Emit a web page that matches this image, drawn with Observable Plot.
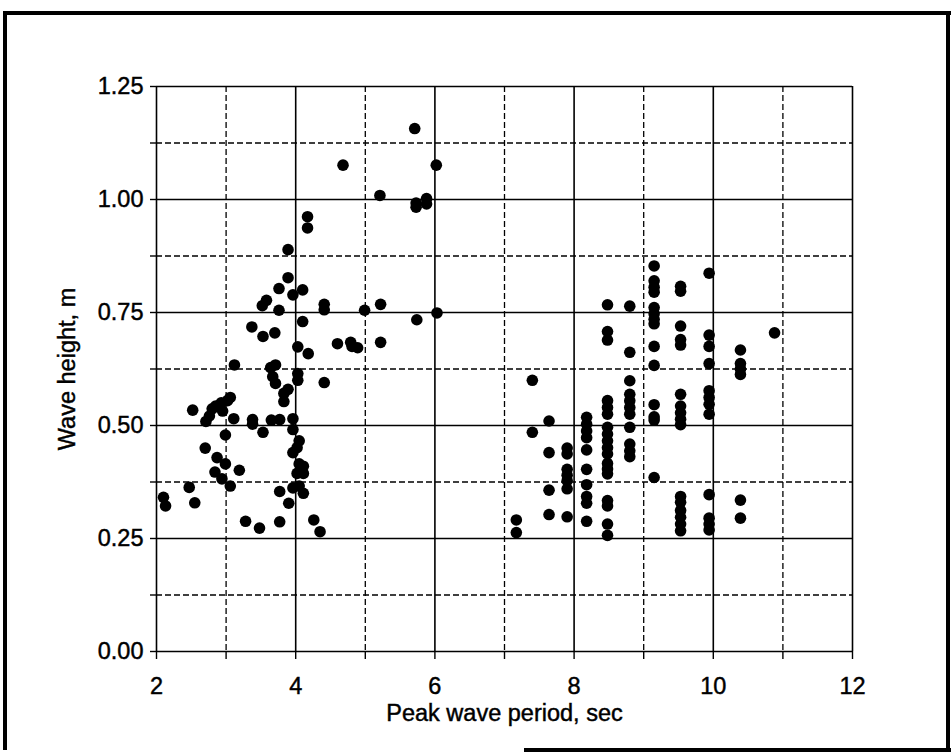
<!DOCTYPE html>
<html><head><meta charset="utf-8">
<script src="https://cdn.jsdelivr.net/npm/d3@7"></script>
<script src="https://cdn.jsdelivr.net/npm/@observablehq/plot@0.6"></script>
<style>
body{margin:0;background:#fff}
#chart{position:relative;width:951px;height:752px}
#chart svg text{stroke:#000;stroke-width:0.45px}
</style>
</head><body><div id="chart"></div>
<script>
// Short-period cluster (individual points)
const periodsA = [4.68,4.17,4.17,3.89,3.89,3.76,4.10,3.96,3.58,3.52,3.76,4.41,4.41,4.10,3.37,3.53,3.70,4.03,4.18,4.60,
  4.79,4.81,4.89,3.12,3.64,3.71,3.67,3.71,4.03,4.03,4.41,3.89,3.83,3.83,3.06,3.02,2.93,2.85,2.80,2.95,
  2.52,2.76,2.71,3.11,3.38,3.38,3.65,3.77,3.96,3.96,3.53,2.99,2.70,4.05,4.02,3.96,2.87,2.99,2.84,2.94,
  3.06,3.19,4.05,4.11,4.11,4.02,3.96,4.05,4.11,2.47,2.10,2.13,2.55,3.77,3.90,3.28,3.48,3.77,4.26,4.35,
  6.02,5.21,5.73,5.73,5.88,5.88,4.99,5.22,6.03,5.74,5.22,5.71];
const heightsA = [1.076,0.962,0.937,0.889,0.827,0.803,0.800,0.789,0.777,0.765,0.755,0.768,0.756,0.730,0.718,0.697,0.705,0.674,0.659,0.681,
  0.684,0.675,0.672,0.634,0.628,0.634,0.608,0.593,0.615,0.600,0.595,0.580,0.571,0.553,0.562,0.555,0.550,0.543,0.537,0.532,
  0.534,0.521,0.509,0.515,0.513,0.503,0.512,0.513,0.515,0.491,0.485,0.479,0.450,0.466,0.451,0.440,0.429,0.415,0.397,0.382,
  0.366,0.401,0.415,0.410,0.394,0.394,0.362,0.366,0.350,0.363,0.341,0.322,0.329,0.354,0.328,0.288,0.273,0.287,0.291,0.265,
  1.076,1.009,0.992,0.983,1.002,0.990,0.755,0.768,0.749,0.734,0.684,1.157];

// Long-period cluster (columns of discrete periods)
const columnPeriods = [7.17,7.40,7.64,7.90,8.18,8.48,8.80,9.15,9.53,9.94,10.39,10.88];
const columnHeights = [
  [0.291,0.263],
  [0.600,0.485],
  [0.510,0.440,0.357,0.303],
  [0.450,0.437,0.403,0.390,0.378,0.360,0.298],
  [0.518,0.503,0.488,0.473,0.446,0.403,0.369,0.343,0.328,0.288],
  [0.767,0.708,0.689,0.555,0.540,0.525,0.496,0.481,0.466,0.451,0.437,0.416,0.404,0.393,0.334,0.322,0.282,0.257],
  [0.764,0.662,0.599,0.569,0.555,0.540,0.525,0.496,0.459,0.444,0.431],
  [0.853,0.820,0.806,0.795,0.761,0.747,0.735,0.725,0.675,0.633,0.546,0.519,0.512,0.385],
  [0.808,0.797,0.720,0.690,0.678,0.569,0.543,0.528,0.514,0.502,0.343,0.330,0.312,0.297,0.282,0.267],
  [0.837,0.700,0.675,0.637,0.577,0.562,0.547,0.525,0.347,0.295,0.282,0.269],
  [0.667,0.637,0.625,0.613,0.335,0.295],
  [0.705]
];

const majorX = [2,4,6,8,10,12];
const minorX = [3,5,7,9,11];
const allX = [2,3,4,5,6,7,8,9,10,11,12];
const majorY = [0,0.25,0.5,0.75,1,1.25];
const minorY = [0.125,0.375,0.625,0.875,1.125];
const allY = [0,0.125,0.25,0.375,0.5,0.625,0.75,0.875,1,1.125,1.25];
const xTickLabels = ["2","4","6","8","10","12"];
const yTickLabels = ["0.00","0.25","0.50","0.75","1.00","1.25"];
const xTitle = "Peak wave period, sec";
const yTitle = "Wave height, m";

const points = periodsA.map((p,i)=>({period:p,height:heightsA[i]}))
  .concat(columnPeriods.flatMap((p,i)=>columnHeights[i].map(h=>({period:p,height:h}))));

const font = "'Liberation Sans', Arial, sans-serif";
const fs = 23.5;

const plot = Plot.plot({
  width:951, height:752,
  marginLeft:156, marginRight:99, marginTop:86, marginBottom:101,
  style:{fontFamily:font, fontSize:fs+"px", color:"#000", background:"#fff"},
  x:{domain:[2,12]},
  y:{domain:[0,1.25]},
  marks:[
    Plot.ruleX(minorX, {stroke:"#000", strokeWidth:1.3, strokeDasharray:"6,3"}),
    Plot.ruleY(minorY, {stroke:"#000", strokeWidth:1.3, strokeDasharray:"6,3"}),
    Plot.ruleX(majorX, {stroke:"#000", strokeWidth:1.6}),
    Plot.ruleY(majorY, {stroke:"#000", strokeWidth:1.6}),
    Plot.axisX(allX, {tickSize:8, strokeWidth:1.4, tickFormat:()=>"", label:null}),
    Plot.axisX(majorX, {tickSize:0, tickPadding:26, fontSize:fs,
      tickFormat:d=>xTickLabels[majorX.indexOf(d)],
      label:xTitle, labelAnchor:"center", labelArrow:"none", labelOffset:69}),
    Plot.axisY(allY, {tickSize:6, strokeWidth:1.4, tickFormat:()=>"", label:null}),
    Plot.axisY(majorY, {tickSize:0, tickPadding:13, fontSize:fs,
      tickFormat:d=>yTickLabels[majorY.indexOf(d)],
      label:yTitle, labelAnchor:"center", labelArrow:"none", labelOffset:98}),
    Plot.dot(points, {x:"period", y:"height", r:5.8, fill:"#000", stroke:"none"})
  ]
});
document.getElementById("chart").appendChild(plot);

// outer scanned frame
const svg = d3.select(plot);
const g = svg.append("g").attr("fill","none").attr("stroke","#000").attr("stroke-width",4);
g.append("path").attr("d","M5,750 V13 H951");
g.append("path").attr("d","M948,13 V750");
g.append("path").attr("d","M524,750 H951");
</script>
</body></html>
